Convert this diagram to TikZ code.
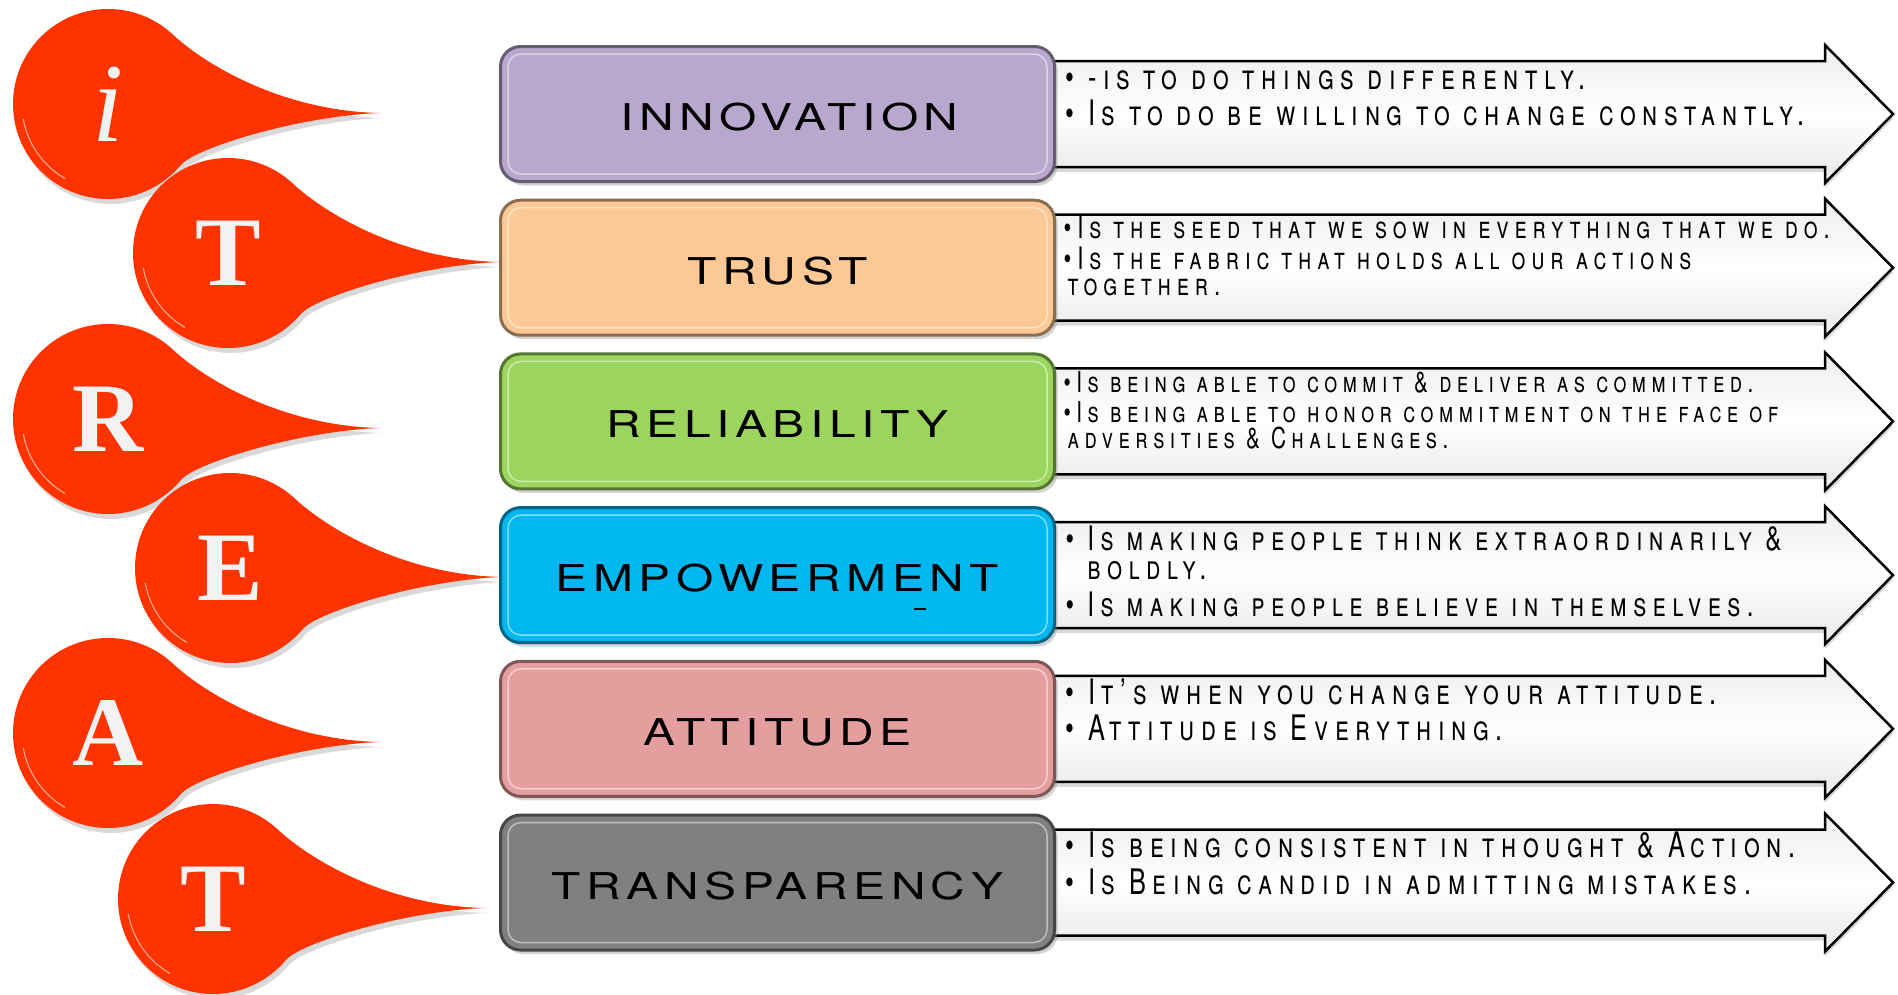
\documentclass[tikz,border=0pt]{standalone}
\usepackage{fontspec}
\setmainfont{TeX Gyre Heros}
\newfontfamily\labelfont[FakeStretch=1.3,LetterSpace=15]{TeX Gyre Heros}
\newfontfamily\descfont[Letters=SmallCaps,FakeStretch=0.72,LetterSpace=19]{TeX Gyre Heros}
\newfontfamily\dropfont{Liberation Serif}
\usetikzlibrary{positioning,shadows}

\definecolor{dropred}{HTML}{FF3300}
\definecolor{dropltr}{HTML}{F2F2F2}
\definecolor{innov}{HTML}{B9A8CE}
\definecolor{trust}{HTML}{FCC896}
\definecolor{reli}{HTML}{9BD55D}
\definecolor{empow}{HTML}{00B7F0}
\definecolor{attit}{HTML}{E59E9E}
\definecolor{transp}{HTML}{808080}

\begin{document}
\begin{tikzpicture}[
    x=0.1mm, y=-0.1mm,
    valbox/.style={draw=#1!55!black, fill=#1, line width=0.3mm, rounded corners=2mm,
                   minimum width=55.4mm, minimum height=13.5mm, inner sep=0pt,
                   text height=3.3mm, text depth=0pt,
                   font=\labelfont\fontsize{10.5}{12}\selectfont,
                   drop shadow={shadow xshift=0.3mm, shadow yshift=-0.4mm, opacity=0.35}},
    bevel/.style={draw=white, opacity=0.5, line width=0.15mm, rounded corners=1.3mm},
    desc/.style={inner sep=0pt, align=left, font=\descfont\fontsize{10}{8.3}\selectfont},
    descsm/.style={desc, font=\descfont\fontsize{8.6}{7.4}\selectfont},
    arrowbody/.style={draw=black, line width=0.25mm, line join=miter,
                      top color=gray!14, bottom color=gray!18, middle color=white,
                      drop shadow={shadow xshift=0mm, shadow yshift=-0.5mm, opacity=0.3}},
    dropletter/.style={text=dropltr, inner sep=0pt,
                       font=\dropfont\bfseries\fontsize{28}{28}\selectfont},
    drop/.pic={
      \path[fill=dropred, drop shadow={shadow xshift=0.3mm, shadow yshift=-0.5mm, opacity=0.3}]
        (64.8,-69.5) arc[start angle=-47, end angle=-320, radius=95]
        .. controls (86.9,44.2) and (190,12) .. (272,9)
        .. controls (175,7) and (97.7,-38.9) .. cycle;
      \draw[white, opacity=0.55, line width=0.12mm]
        (-190:86) arc[start angle=-190, end angle=-240, radius=86];
      \node[dropletter] (-l) {#1};
    }]
  \useasboundingbox (0,0) rectangle (1898,994);

  % arrows behind the value boxes
  \foreach \t in {45,198.7,352.4,506.1,659.8,813.5}
    \path[arrowbody] (1000,\t+16) -- (1825,\t+16) -- (1825,\t) -- (1893,\t+69)
      -- (1825,\t+138) -- (1825,\t+122) -- (1000,\t+122);

  % value boxes
  \node[valbox=innov] (innov) at (777.5,114) {\hspace*{2.4mm}INNOVATION};
  \node[valbox=trust, below=1.57mm of innov] (trust) {TRUST};
  \node[valbox=reli, below=1.57mm of trust] (reli) {RELIABILITY};
  \node[valbox=empow, below=1.57mm of reli] (empow) {EMPOWERMENT};
  \node[valbox=attit, below=1.57mm of empow] (attit) {ATTITUDE};
  \node[valbox=transp, below=1.57mm of attit] (transp) {TRANSPARENCY};
  \foreach \n in {innov,trust,reli,empow,attit,transp}
    \draw[bevel] ([shift={(9,9)}]\n.north west) rectangle ([shift={(-9,-9)}]\n.south east);
  \node[inner sep=0pt] (empmark) at (920,609) {\rule{1.2mm}{0.25mm}};

  % texts on the arrows
  \node[desc, below right=2.45mm and 0.9mm of innov.north east] (innovtxt)
    {\textbullet\ -is to do things differently.\\[2pt]
     \textbullet\ Is to do be willing to change constantly.};
  \node[descsm, font=\descfont\fontsize{8.8}{7.5}\selectfont,
        below right=1.7mm and 0.7mm of trust.north east] (trusttxt)
    {\textbullet Is the seed that we sow in everything that we do.\\[1.2pt]
     \textbullet Is the fabric that holds all our actions\\
     \hspace*{0.4mm}together.};
  \node[descsm, font=\descfont\fontsize{8.2}{7.3}\selectfont,
        below right=1.8mm and 0.7mm of reli.north east] (relitxt)
    {\textbullet Is being able to commit \& deliver as committed.\\[1.3pt]
     \textbullet Is being able to honor commitment on the face of\\
     \hspace*{0.4mm}adversities \& Challenges.};
  \node[desc, font=\descfont\fontsize{9.6}{8.4}\selectfont,
        below right=1.9mm and 0.9mm of empow.north east] (empowtxt)
    {\textbullet\ Is making people think extraordinarily \&\\
     \phantom{\textbullet\ }boldly.\\[2pt]
     \textbullet\ Is making people believe in themselves.};
  \node[desc, below right=1.8mm and 0.9mm of attit.north east] (attittxt)
    {\textbullet\ It’s when you change your attitude.\\[2pt]
     \textbullet\ Attitude is Everything.};
  \node[desc, below right=1.8mm and 0.9mm of transp.north east] (transptxt)
    {\textbullet\ Is being consistent in thought \& Action.\\[2pt]
     \textbullet\ Is Being candid in admitting mistakes.};

  % the ITREAT drops
  \pic (di) at (108,104) {drop={\fontsize{32}{32}\selectfont\mdseries\itshape i}};
  \pic (dt) at (228,253) {drop=T};
  \pic (dr) at (108,419) {drop=R};
  \pic (de) at (230,568) {drop=E};
  \pic (da) at (108,733) {drop=A};
  \pic (dtt) at (213,899) {drop=T};
\end{tikzpicture}
\end{document}
